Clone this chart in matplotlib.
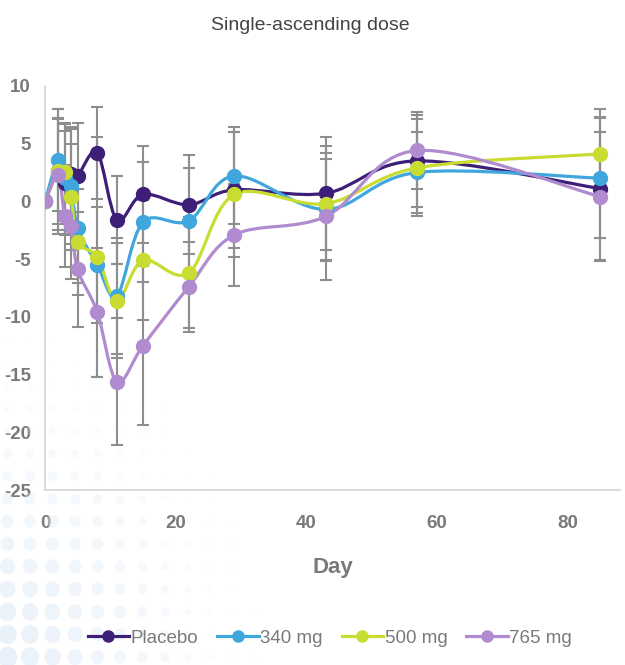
import numpy as np
import matplotlib.pyplot as plt
from matplotlib.path import Path
from matplotlib.patches import PathPatch, Circle

plt.rcParams['font.family'] = ['Liberation Sans', 'DejaVu Sans']
plt.rcParams['axes.unicode_minus'] = False

# data
days = [0, 2, 3, 4, 5, 8, 11, 15, 22, 29, 43, 57, 85]
series = ["Placebo", "340 mg", "500 mg", "765 mg"]
colors = ["#3e1f77", "#40a7de", "#c9dc31", "#b08bcf"]

placebo = [0, 2.6, 1.6, 2.4, 2.2, 4.2, -1.6, 0.6, -0.3, 1.0, 0.7, 3.5, 1.1]
mg340 = [0, 3.6, 2.0, 1.3, -2.3, -5.5, -8.2, -1.8, -1.7, 2.2, -0.7, 2.5, 2.0]
mg500 = [0, 2.6, 2.5, 0.4, -3.5, -4.8, -8.6, -5.1, -6.2, 0.6, -0.2, 2.9, 4.1]
mg765 = [0, 2.3, -1.3, -2.1, -5.9, -9.6, -15.6, -12.5, -7.4, -2.9, -1.3, 4.4, 0.4]

err_placebo = [0, 5.4, 4.5, 4.0, 4.6, 4.0, 3.8, 4.2, 4.3, 5.0, 4.9, 4.0, 6.2]
err_340 = [0, 4.4, 4.8, 5.0, 4.8, 5.0, 5.0, 5.2, 4.6, 4.2, 4.4, 3.5, 5.2]
err_500 = [0, 4.6, 4.2, 4.6, 4.6, 10.4, 5.0, 5.2, 4.8, 5.4, 5.0, 4.2, 3.9]
err_765 = [0, 4.8, 4.4, 4.6, 5.0, 5.6, 5.5, 6.9, 3.9, 4.4, 5.5, 3.3, 5.6]

values = [placebo, mg340, mg500, mg765]
errors = [err_placebo, err_340, err_500, err_765]


def smooth_path(x, y, k=1 / 6):
    # catmull-rom style bezier through the points (like excel "smoothed line")
    p = np.column_stack([x, y]).astype(float)
    verts = [p[0]]
    codes = [Path.MOVETO]
    n = len(p)
    for i in range(n - 1):
        p0 = p[i - 1] if i > 0 else p[i]
        p3 = p[i + 2] if i + 2 < n else p[i + 1]
        c1 = p[i] + (p[i + 1] - p0) * k
        c2 = p[i + 1] - (p3 - p[i]) * k
        verts += [c1, c2, p[i + 1]]
        codes += [Path.CURVE4] * 3
    return Path(verts, codes)


fig = plt.figure(figsize=(6.25, 6.65), dpi=100)

# faint dotted decoration in the lower left corner
for r in range(16):
    for c in range(12):
        fx = 0.012 + c * 0.036
        fy = 0.012 + r * 0.034
        d = np.hypot(fx / 0.42, fy / 0.50)
        if d < 1.0:
            fig.patches.append(Circle((fx, fy), 0.014 * (1.15 - d), transform=fig.transFigure,
                                      color="#e2edf8", alpha=0.8 * (1 - d), zorder=0, lw=0))

ax = fig.add_axes([0.072, 0.263, 0.92, 0.608])
ax.set_facecolor("none")

for vals, errs, col in zip(values, errors, colors):
    ax.errorbar(days, vals, yerr=errs, fmt="none", ecolor="#8e8e8e", elinewidth=1.5,
                capsize=4, capthick=1.5, zorder=2)

for name, vals, col in zip(series, values, colors):
    ax.add_patch(PathPatch(smooth_path(days, vals), facecolor="none", edgecolor=col, lw=2.3, zorder=3))
    ax.plot(days, vals, "o", color=col, ms=10, zorder=4)
    ax.plot([], [], "-o", color=col, lw=2.3, ms=8, label=name)

ax.set_xlim(0, 88)
ax.set_ylim(-25, 10)
ax.set_xticks([0, 20, 40, 60, 80])
ax.set_yticks([10, 5, 0, -5, -10, -15, -20, -25])
ax.tick_params(length=0, labelsize=13.5, labelcolor="#7a7a7a")
ax.tick_params(axis="x", pad=18)
ax.tick_params(axis="y", pad=10)
for lab in ax.get_xticklabels() + ax.get_yticklabels():
    lab.set_fontweight("bold")
for s in ["top", "right"]:
    ax.spines[s].set_visible(False)
for s in ["left", "bottom"]:
    ax.spines[s].set_color("#d4d4d4")
    ax.spines[s].set_linewidth(1.2)

ax.set_xlabel("Day", fontsize=16, fontweight="bold", color="#7a7a7a", labelpad=18)
fig.text(0.496, 0.962, "Single-ascending dose", ha="center", va="center", fontsize=14, color="#444444")

fig.legend(loc="center", bbox_to_anchor=(0.528, 0.04), ncol=4, frameon=False, fontsize=13.5,
           handlelength=2.2, handletextpad=0.1, columnspacing=1.0, labelcolor="#7a7a7a")

fig.savefig("out.png", dpi=100)
